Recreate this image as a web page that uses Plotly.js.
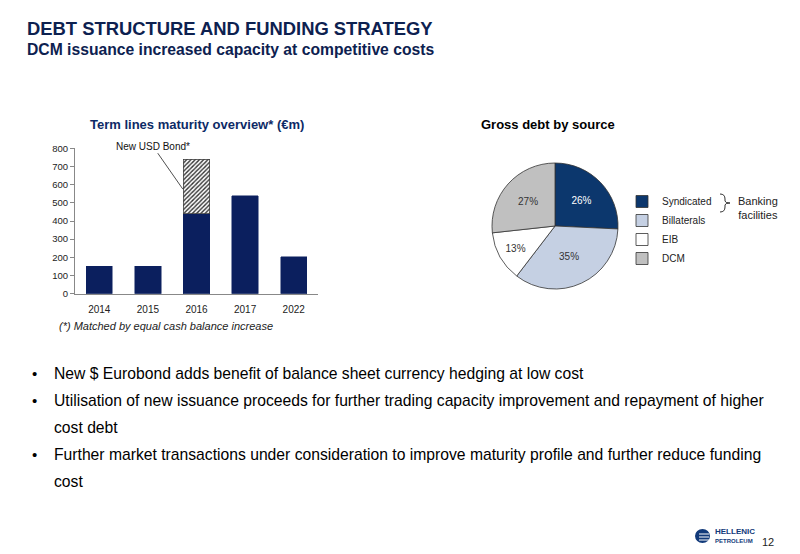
<!DOCTYPE html>
<html>
<head>
    <meta charset='utf-8'>
    <title>Debt structure and funding strategy</title>
    <script src="https://cdn.plot.ly/plotly-3.0.1.min.js"></script>
    <style>
        body { margin:0; background:#fff; }
        #chartDiv { width:800px; height:554px; }
    </style>
</head>
<body>
    <div id="chartDiv"></div>

    <script>
        // bar chart data (EUR m)
        const years = ['2014', '2015', '2016', '2017', '2022'];
        const termLines = [152, 152, 440, 540, 202];
        const usdBond = [null, null, 300, null, null];

        // pie data
        const sources = ['Syndicated', 'Billaterals', 'EIB', 'DCM'];
        const sourceShares = [26, 35, 13, 27];
        const sourceColors = ['#0c376d', '#c5d0e3', '#ffffff', '#c0c0c0'];

        // bullet text, one entry per printed line ('' bullet = continuation line)
        const bulletLines = [
            ['•', 'New $ Eurobond adds benefit of balance sheet currency hedging at low cost'],
            ['•', 'Utilisation of new issuance proceeds for further trading capacity improvement and repayment of higher'],
            ['', 'cost debt'],
            ['•', 'Further market transactions under consideration to improve maturity profile and further reduce funding'],
            ['', 'cost'],
        ];

        const W = 800, H = 554;
        const px = (x) => x / W;
        const py = (y) => 1 - y / H;
        const navy = '#0b1f5e';
        const font = 'Liberation Sans, Arial, sans-serif';

        const barBase = {
            x : years,
            y : termLines,
            type : 'bar',
            width : 0.54,
            marker : { color : navy, line : { color : navy, width : 0.5 } },
            xaxis : 'x', yaxis : 'y',
            showlegend : false,
            hoverinfo : 'x+y',
        };

        const barBond = {
            x : years,
            y : usdBond,
            type : 'bar',
            width : 0.54,
            marker : {
                color : '#ffffff',
                line : { color : '#444', width : 0.8 },
                pattern : { shape : '/', size : 3, solidity : 0.45, fgcolor : '#333', bgcolor : '#ffffff' },
            },
            xaxis : 'x', yaxis : 'y',
            showlegend : false,
            hoverinfo : 'x+y',
        };

        const pie = {
            type : 'pie',
            labels : sources,
            values : sourceShares,
            sort : false,
            direction : 'clockwise',
            rotation : 0,
            marker : { colors : sourceColors, line : { color : '#333', width : 0.8 } },
            texttemplate : '%{value}%',
            textposition : 'inside',
            insidetextorientation : 'horizontal',
            textfont : { size : 10, family : font, color : ['#ffffff', '#333', '#333', '#333'] },
            domain : { x : [px(492), px(618)], y : [py(289), py(163)] },
            hoverinfo : 'label+percent',
        };

        const txt = (x, y, text, size, opts = {}) => Object.assign({
            xref : 'paper', yref : 'paper', x : px(x), y : py(y),
            text : text, showarrow : false, xanchor : 'left', yanchor : 'middle',
            font : { family : font, size : size, color : '#000' },
        }, opts);

        const annotations = [
            txt(25, 28, '<b>DEBT STRUCTURE AND FUNDING STRATEGY</b>', 18.4, { font : { family : font, size : 18.4, color : '#0d2150' } }),
            txt(25, 50, '<b>DCM issuance increased capacity at competitive costs</b>', 15.7, { font : { family : font, size : 15.7, color : '#0d2150' } }),
            txt(197, 125, '<b>Term lines maturity overview* (€m)</b>', 13, { xanchor : 'center', font : { family : font, size : 13, color : '#0d2a66' } }),
            txt(548, 125, '<b>Gross debt by source</b>', 13, { xanchor : 'center' }),
            txt(166, 326, '<i>(*) Matched by equal cash balance increase</i>', 11, { xanchor : 'center', font : { family : font, size : 11, color : '#222' } }),
            txt(736, 208, 'Banking<br>facilities', 11, { font : { family : font, size : 11, color : '#222' } }),
            {
                xref : 'x', yref : 'y', x : 1.72, y : 575,
                text : 'New USD Bond*', showarrow : true, arrowhead : 0, arrowwidth : 0.8, arrowcolor : '#222',
                ax : -30, ay : -43, font : { family : font, size : 10, color : '#111' },
            },
            txt(768, 542, '12', 11, { xanchor : 'center', font : { family : font, size : 11, color : '#222' } }),
            txt(713, 531, '<b>HELLENIC</b>', 8, { font : { family : font, size : 8, color : '#123a7a' } }),
            txt(713, 541, '<b>PETROLEUM</b>', 6, { font : { family : font, size : 6, color : '#123a7a' } }),
        ];

        // bullet list, 27px line pitch
        bulletLines.forEach((ln, i) => {
            const y = 373 + i * 27.2;
            if (ln[0]) annotations.push(txt(30, y, ln[0], 15, { font : { family : font, size : 15, color : '#000' } }));
            annotations.push(txt(52, y, ln[1], 15.7, { font : { family : font, size : 15.7, color : '#000' } }));
        });

        const brace = 'M ' + px(720) + ' ' + py(194) +
            ' Q ' + px(725) + ' ' + py(194) + ' ' + px(725) + ' ' + py(199) +
            ' L ' + px(725) + ' ' + py(201) +
            ' Q ' + px(725) + ' ' + py(203) + ' ' + px(730) + ' ' + py(203) +
            ' Q ' + px(725) + ' ' + py(203) + ' ' + px(725) + ' ' + py(205) +
            ' L ' + px(725) + ' ' + py(207) +
            ' Q ' + px(725) + ' ' + py(212) + ' ' + px(720) + ' ' + py(212);

        const shapes = [
            { type : 'path', xref : 'paper', yref : 'paper', path : brace, line : { color : '#333', width : 1 } },
            { type : 'circle', xref : 'paper', yref : 'paper', x0 : px(695), x1 : px(710), y0 : py(543), y1 : py(529),
              fillcolor : '#123a7a', line : { width : 0 } },
            { type : 'line', xref : 'paper', yref : 'paper', x0 : px(699), x1 : px(709), y0 : py(534), y1 : py(534), line : { color : '#fff', width : 1 } },
            { type : 'line', xref : 'paper', yref : 'paper', x0 : px(699), x1 : px(709), y0 : py(537), y1 : py(537), line : { color : '#fff', width : 1 } },
            { type : 'line', xref : 'paper', yref : 'paper', x0 : px(699), x1 : px(709), y0 : py(540), y1 : py(540), line : { color : '#fff', width : 1 } },
        ];

        const layout = {
            width : W, height : H,
            margin : { l : 0, r : 0, t : 0, b : 0 },
            paper_bgcolor : '#fff', plot_bgcolor : '#fff',
            font : { family : font, color : '#222' },
            barmode : 'stack',
            bargap : 0.46,
            xaxis : {
                domain : [px(75), px(318)],
                anchor : 'y',
                type : 'category',
                showline : true, linecolor : '#888', linewidth : 1,
                ticks : '', showgrid : false, zeroline : false,
                tickfont : { size : 10, family : font, color : '#222' },
                ticklabelstandoff : 6,
            },
            yaxis : {
                domain : [py(293.7), py(148.3)],
                anchor : 'x',
                range : [0, 800],
                dtick : 100,
                showline : true, linecolor : '#888', linewidth : 1,
                ticks : 'outside', ticklen : 4, tickcolor : '#888',
                showgrid : false, zeroline : false,
                tickfont : { size : 9.5, family : font, color : '#222' },
            },
            legend : {
                x : px(622), y : py(187), xanchor : 'left', yanchor : 'top',
                traceorder : 'normal',
                font : { size : 10, family : font, color : '#222' },
                bgcolor : 'rgba(0,0,0,0)',
                itemwidth : 30,
                tracegroupgap : 0,
            },
            annotations : annotations,
            shapes : shapes,
        };

        Plotly.newPlot('chartDiv', [barBase, barBond, pie], layout, { displayModeBar : false, staticPlot : true });
    </script>
</body>
</html>
